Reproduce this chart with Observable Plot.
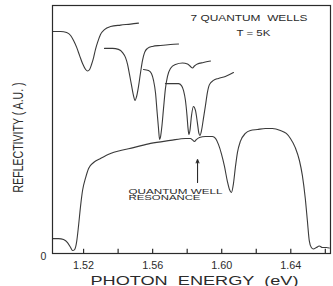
<!DOCTYPE html>
<html>
<head>
<meta charset="utf-8">
<script src="https://cdn.jsdelivr.net/npm/d3@7"></script>
<script src="https://cdn.jsdelivr.net/npm/@observablehq/plot@0.6"></script>
<style>
  body { margin: 0; background: #fff; }
  #chart svg { display: block; }
</style>
</head>
<body>
<div id="chart"></div>
<script>
// Reflectivity spectra (arbitrary units) vs photon energy (eV), offset vertically.
const spectrum1 = [[1.5021,8.95],[1.5067,8.95],[1.5102,8.91],[1.5125,8.79],[1.5142,8.59],[1.5160,8.31],[1.5177,7.98],[1.5194,7.66],[1.5212,7.42],[1.5223,7.36],[1.5235,7.42],[1.5246,7.62],[1.5258,7.90],[1.5269,8.23],[1.5281,8.51],[1.5298,8.83],[1.5321,9.03],[1.5356,9.15],[1.5414,9.21],[1.5472,9.25],[1.5518,9.29]];
const spectrum2 = [[1.5321,8.27],[1.5368,8.27],[1.5402,8.23],[1.5426,8.10],[1.5443,7.90],[1.5455,7.62],[1.5466,7.22],[1.5478,6.77],[1.5489,6.37],[1.5498,6.17],[1.5507,6.33],[1.5518,6.73],[1.5530,7.30],[1.5541,7.78],[1.5553,8.10],[1.5570,8.27],[1.5599,8.35],[1.5645,8.39],[1.5703,8.43],[1.5750,8.45]];
const spectrum3 = [[1.5547,7.42],[1.5576,7.38],[1.5593,7.26],[1.5605,6.98],[1.5617,6.45],[1.5625,5.77],[1.5634,5.04],[1.5640,4.60],[1.5645,4.68],[1.5654,5.16],[1.5663,5.85],[1.5674,6.65],[1.5686,7.14],[1.5703,7.46],[1.5732,7.62],[1.5773,7.68],[1.5802,7.64],[1.5819,7.54],[1.5831,7.48],[1.5842,7.56],[1.5859,7.64],[1.5894,7.70],[1.5935,7.76]];
const spectrum4 = [[1.5674,6.85],[1.5715,6.85],[1.5750,6.85],[1.5767,6.77],[1.5779,6.57],[1.5790,6.17],[1.5799,5.56],[1.5805,5.04],[1.5810,4.80],[1.5816,4.96],[1.5825,5.56],[1.5836,5.93],[1.5848,5.77],[1.5859,5.28],[1.5868,4.84],[1.5874,4.76],[1.5883,4.96],[1.5894,5.44],[1.5906,5.97],[1.5917,6.49],[1.5929,6.81],[1.5952,6.98],[1.5981,7.06],[1.6021,7.14],[1.6068,7.30]];
const spectrum5 = [[1.5021,0.60],[1.5055,0.60],[1.5084,0.56],[1.5107,0.44],[1.5125,0.24],[1.5136,0.12],[1.5148,0.16],[1.5160,0.48],[1.5171,1.13],[1.5183,1.94],[1.5194,2.54],[1.5212,3.06],[1.5229,3.43],[1.5258,3.67],[1.5298,3.83],[1.5356,4.03],[1.5414,4.15],[1.5489,4.27],[1.5588,4.44],[1.5703,4.56],[1.5790,4.64],[1.5819,4.64],[1.5831,4.58],[1.5842,4.52],[1.5854,4.60],[1.5871,4.68],[1.5906,4.72],[1.5946,4.72],[1.5964,4.64],[1.5981,4.40],[1.5998,4.03],[1.6016,3.51],[1.6033,2.90],[1.6045,2.58],[1.6056,2.46],[1.6068,2.82],[1.6079,3.47],[1.6091,4.07],[1.6108,4.52],[1.6137,4.84],[1.6166,4.96],[1.6207,5.00],[1.6253,5.04],[1.6293,5.04],[1.6340,4.96],[1.6374,4.84],[1.6398,4.64],[1.6426,4.27],[1.6450,3.75],[1.6467,3.15],[1.6484,2.22],[1.6496,1.33],[1.6507,0.52],[1.6519,0.24],[1.6531,0.18],[1.6548,0.24],[1.6565,0.30],[1.6583,0.24],[1.6606,0.24],[1.6623,0.22]];

const spectra = [spectrum1, spectrum2, spectrum3, spectrum4, spectrum5];

const majorTicks = [1.52, 1.56, 1.60, 1.64];
const minorTicks = [1.52, 1.54, 1.56, 1.58, 1.60, 1.62, 1.64, 1.66];
const resonanceEnergy = 1.586;

const ink = "#2b2b2b";
const font = "Liberation Sans, Arial, sans-serif";

const rows = spectra.flatMap((s, i) => s.map(([e, r]) => ({series: i, e, r})));

const chart = Plot.plot({
  width: 333,
  height: 286,
  marginLeft: 52,
  marginRight: 3,
  marginTop: 5,
  marginBottom: 33,
  style: {fontFamily: font, background: "#fff", color: ink},
  x: {domain: [1.502, 1.663], label: null},
  y: {domain: [0, 10], label: null, axis: null},
  marks: [
    Plot.line(rows, {x: "e", y: "r", z: "series", curve: "monotone-x", stroke: "#3a3a3a", strokeWidth: 1.1}),
    Plot.frame({stroke: ink, strokeWidth: 1.2}),
    // short inward ticks every 0.02 eV, rising from the baseline
    Plot.ruleX(minorTicks, {x: d => d, y1: 0, y2: 0.17, stroke: ink, strokeWidth: 1.2}),
    Plot.axisX(majorTicks, {tickSize: 0, tickPadding: 8, tickFormat: d3.format(".2f"), fontSize: 10, fill: ink}),
    Plot.text(["0"], {x: 1.502, y: 0, dx: -9, dy: 3, fontSize: 10.5, fill: ink}),
    Plot.text(["PHOTON  ENERGY  (eV)"], {x: 1.5842, y: 0, dy: 27, fontSize: 12.5, fill: ink}),
    Plot.text(["REFLECTIVITY ( A.U. )"], {x: 1.502, y: 4.68, dx: -34, rotate: -90, fontSize: 15, fill: ink}),
    Plot.text(["7 QUANTUM  WELLS"], {x: 1.5819, y: 9.48, textAnchor: "start", fontSize: 9, fill: ink}),
    Plot.text(["T = 5K"], {x: 1.6085, y: 8.87, textAnchor: "start", fontSize: 9, fill: ink}),
    Plot.text(["QUANTUM WELL"], {x: 1.5460, y: 2.50, textAnchor: "start", fontSize: 6.5, fill: ink}),
    Plot.text(["RESONANCE"], {x: 1.5460, y: 2.26, textAnchor: "start", fontSize: 6.5, fill: ink}),
    Plot.arrow([resonanceEnergy], {x1: d => d, x2: d => d, y1: 2.86, y2: 3.79, headLength: 5, headAngle: 45, stroke: ink, strokeWidth: 1.1})
  ]
});

// Stretch the wide, letter-spaced lettering to its printed width.
const stretch = new Map([
  ["7 QUANTUM  WELLS", 117], ["T = 5K", 34], ["QUANTUM WELL", 94], ["RESONANCE", 72],
  ["PHOTON  ENERGY  (eV)", 208], ["REFLECTIVITY ( A.U. )", 110],
  ["1.52", 21], ["1.56", 21], ["1.60", 21], ["1.64", 21]
]);
d3.select(chart).selectAll("text").each(function () {
  const t = this.textContent;
  if (stretch.has(t)) {
    this.setAttribute("textLength", stretch.get(t));
    this.setAttribute("lengthAdjust", "spacingAndGlyphs");
    this.style.whiteSpace = "pre";
  }
});

document.getElementById("chart").append(chart);
</script>
</body>
</html>
